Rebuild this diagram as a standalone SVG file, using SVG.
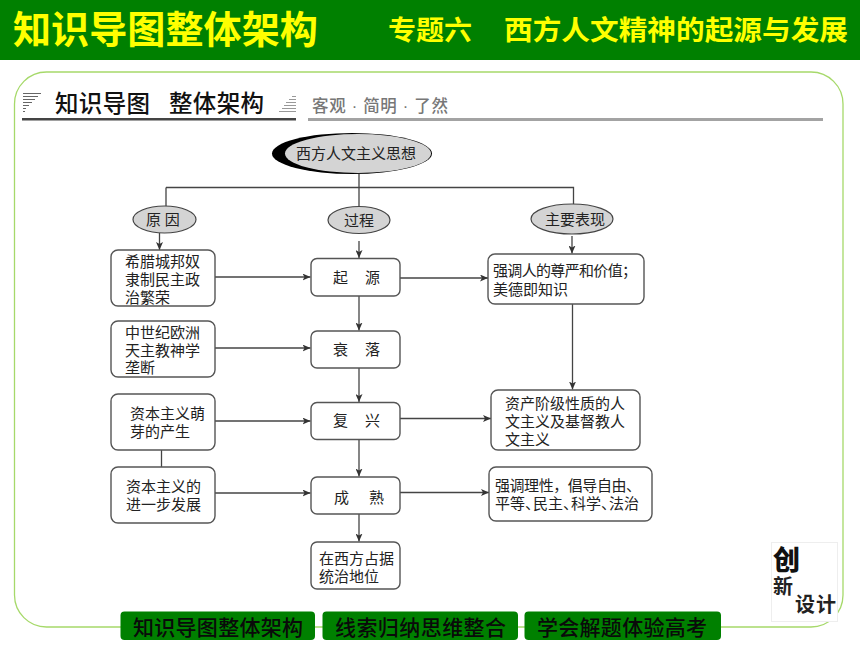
<svg xmlns="http://www.w3.org/2000/svg" width="860" height="645" viewBox="0 0 860 645">
<style>
text{font-family:"Liberation Serif","Noto Sans CJK SC",serif;fill:#222;font-size:15px}
.s{font-family:"Liberation Sans","Noto Sans CJK SC",sans-serif}
.hd{fill:#ff0;font-weight:700}
.box{fill:#fff;stroke:#555;stroke-width:1.4}
.ov{fill:#d4d4d4;stroke:#444;stroke-width:1.2}
.c{fill:none;stroke:#444;stroke-width:1.3}
.btn{fill:#008000}
.bt{fill:#0a0a0a;font-size:21px;font-weight:500}
.m{text-anchor:middle}
</style>
<defs><marker id="a" markerUnits="userSpaceOnUse" markerWidth="9" markerHeight="7" refX="8" refY="3.500" orient="auto"><path d="M0 0L8 3.500L0 7L2 3.500Z" fill="#333"/></marker></defs>
<rect width="860" height="645" fill="#fff"/>
<g id="header"><rect width="860" height="60" fill="#008000"/>
<text class="s hd" x="13" y="43" style="font-size:38px" textLength="305" lengthAdjust="spacingAndGlyphs">知识导图整体架构</text>
<text class="s hd" x="388" y="40" style="font-size:27px" textLength="84" lengthAdjust="spacingAndGlyphs">专题六</text>
<text class="s hd" x="504" y="40" style="font-size:27px" textLength="344" lengthAdjust="spacingAndGlyphs">西方人文精神的起源与发展</text></g>
<rect id="panel" x="14.500" y="72" width="828.500" height="555" rx="32" fill="#fff" stroke="#a6d96a" stroke-width="1.3"/>
<g id="section-title">
<g stroke="#666"><path d="M23 93.500H41M23 96.500H38M23 99.500H35M23 102.500H32M23 105.500H29M23 108.500H26M23 111.500H25"/><path d="M292 96.500H296M289 99.500H296M286 102.500H296M284 105.500H296M282 108.500H296M279 111.500H296" stroke="#999"/></g>
<text class="s" x="55" y="112" style="font-size:23.500px;fill:#111;font-weight:500" textLength="95">知识导图</text>
<text class="s" x="169" y="112" style="font-size:23.500px;fill:#111;font-weight:500" textLength="95">整体架构</text>
<rect x="22" y="118" width="274" height="2.500" fill="#444"/>
<text class="s" x="312" y="112" style="font-size:16.500px;fill:#777;font-weight:500" textLength="136">客观 · 简明 · 了然</text>
<rect x="308" y="118" width="515" height="3" fill="#a3a3a3"/></g>
<g id="connectors">
<path class="c" d="M359 174V207M166 187.500H573.500V204M166 187.500V206"/>
<path class="c" marker-end="url(#a)" d="M159.500 233V250"/>
<path class="c" marker-end="url(#a)" d="M359 241V258"/>
<path class="c" marker-end="url(#a)" d="M572 236V253.500"/>
<path class="c" marker-end="url(#a)" d="M215 277H310.500"/>
<path class="c" marker-end="url(#a)" d="M215 348H310.500"/>
<path class="c" marker-end="url(#a)" d="M215 421H310.500"/>
<path class="c" marker-end="url(#a)" d="M215 493H310.500"/>
<path class="c" d="M161.500 450V467"/>
<path class="c" marker-end="url(#a)" d="M359 296V330.500"/>
<path class="c" marker-end="url(#a)" d="M359 368V402"/>
<path class="c" marker-end="url(#a)" d="M359 439.500V476.500"/>
<path class="c" marker-end="url(#a)" d="M359 514V541.500"/>
<path class="c" marker-end="url(#a)" d="M400 278H488"/>
<path class="c" marker-end="url(#a)" d="M400 418.500H491"/>
<path class="c" marker-end="url(#a)" d="M400 492.500H489"/>
<path class="c" marker-end="url(#a)" d="M572.500 304V389.500"/>
</g>
<g id="n-root"><ellipse cx="352" cy="153.500" rx="80" ry="20.500" fill="#000"/><ellipse cx="358" cy="153.500" rx="73" ry="19.500" fill="#d4d4d4"/><text class="m" x="356" y="159" textLength="120">西方人文主义思想</text></g>
<g id="n-cause"><ellipse class="ov" cx="164.500" cy="219.500" rx="31.500" ry="13.500"/><text class="m" x="163" y="225">原 因</text></g>
<g id="n-process"><ellipse class="ov" cx="359" cy="220" rx="31" ry="13.500"/><text class="m" x="359" y="225.500">过程</text></g>
<g id="n-show"><ellipse class="ov" cx="572" cy="219" rx="41" ry="15"/><text class="m" x="575" y="225">主要表现</text></g>
<g id="n-greek"><rect class="box" x="111" y="250" width="104" height="56" rx="7"/><text x="125" y="267">希腊城邦奴</text><text x="125" y="285">隶制民主政</text><text x="125" y="303">治繁荣</text></g>
<g id="n-medieval"><rect class="box" x="111" y="321" width="104" height="56" rx="7"/><text x="125" y="338">中世纪欧洲</text><text x="125" y="356">天主教神学</text><text x="125" y="373">垄断</text></g>
<g id="n-sprout"><rect class="box" x="111" y="394" width="104" height="56" rx="7"/><text x="130" y="419">资本主义萌</text><text x="130" y="437">芽的产生</text></g>
<g id="n-develop"><rect class="box" x="111" y="467" width="104" height="56" rx="7"/><text x="126" y="492">资本主义的</text><text x="126" y="510">进一步发展</text></g>
<g id="n-origin"><rect class="box" x="311" y="258.500" width="89" height="37.500" rx="6"/><text x="333" y="283">起</text><text x="365" y="283">源</text></g>
<g id="n-decline"><rect class="box" x="311" y="331" width="89" height="37" rx="6"/><text x="333" y="355">衰</text><text x="365" y="355">落</text></g>
<g id="n-revival"><rect class="box" x="311" y="402.500" width="89" height="37" rx="6"/><text x="333" y="426">复</text><text x="365" y="426">兴</text></g>
<g id="n-mature"><rect class="box" x="311" y="477" width="89" height="37" rx="6"/><text x="334" y="503">成</text><text x="369" y="503">熟</text></g>
<g id="n-dominant"><rect class="box" x="311" y="542" width="89" height="47" rx="6"/><text x="319" y="564">在西方占据</text><text x="319" y="582">统治地位</text></g>
<g id="n-dignity"><rect class="box" x="488" y="254" width="156" height="50" rx="7"/><text x="493" y="276" textLength="144">强调人的尊严和价值；</text><text x="493" y="295">美德即知识</text></g>
<g id="n-humanism"><rect class="box" x="491" y="390" width="149" height="60" rx="7"/><text x="505" y="409">资产阶级性质的人</text><text x="505" y="427">文主义及基督教人</text><text x="505" y="445">文主义</text></g>
<g id="n-reason"><rect class="box" x="489" y="467" width="163" height="54" rx="7"/><text x="495" y="491" textLength="146">强调理性，倡导自由、</text><text x="495 510 525 533 548 563 571 586 601 609 624" y="509">平等、民主、科学、法治</text></g>
<g id="logo"><rect x="771.500" y="542.500" width="66" height="79" fill="#fff" stroke="#eee"/>
<text class="s" x="773" y="570" style="font-size:27px;font-weight:900;fill:#111">创</text>
<text class="s" x="773" y="594" style="font-size:20px;font-weight:700;fill:#222">新</text>
<text class="s" x="795" y="612" style="font-size:20px;font-weight:700;fill:#222">设</text>
<text class="s" x="816" y="612" style="font-size:20px;font-weight:700;fill:#222">计</text></g>
<g id="nav">
<rect class="btn" x="120.500" y="611.500" width="194.500" height="28.500" rx="4"/><text class="s bt" x="133" y="635" textLength="170">知识导图整体架构</text>
<rect class="btn" x="322.500" y="611.500" width="195.500" height="28.500" rx="4"/><text class="s bt" x="335" y="635" textLength="171">线索归纳思维整合</text>
<rect class="btn" x="524.500" y="611.500" width="196.500" height="28.500" rx="4"/><text class="s bt" x="537" y="635" textLength="170">学会解题体验高考</text></g>
</svg>
